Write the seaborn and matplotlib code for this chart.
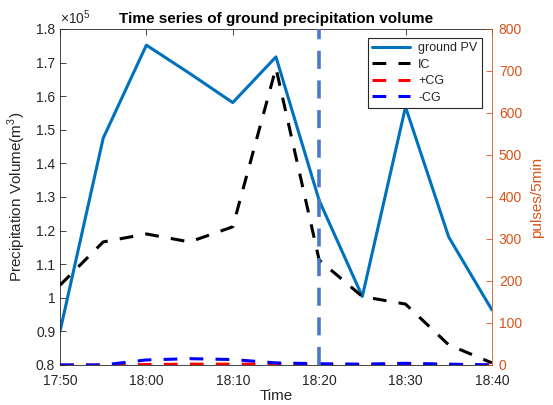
import matplotlib
matplotlib.use("Agg")
import matplotlib.dates as mdates
import matplotlib.pyplot as plt
import matplotlib.ticker as mticker
import pandas as pd
import seaborn as sns

times = ["17:50", "17:55", "18:00", "18:05", "18:10", "18:15",
         "18:20", "18:25", "18:30", "18:35", "18:40"]
ground_pv = [0.90e5, 1.475e5, 1.752e5, 1.668e5, 1.581e5, 1.717e5,
             1.290e5, 1.004e5, 1.568e5, 1.181e5, 0.964e5]
ic = [190, 293, 312, 293, 329, 707, 250, 163, 145, 48, 5]
pos_cg = [0, 0, 1, 2, 2, 2, 1, 0, 3, 0, 0]
neg_cg = [0, 0, 12, 15, 13, 5, 3, 2, 4, 2, 0]
marker_time = "18:20"

left_ticks = [0.8e5, 0.9e5, 1.0e5, 1.1e5, 1.2e5, 1.3e5, 1.4e5, 1.5e5, 1.6e5, 1.7e5, 1.8e5]
right_ticks = [0, 100, 200, 300, 400, 500, 600, 700, 800]


def main() -> None:
    t = pd.to_datetime(["2020-01-01 " + s for s in times])
    df = pd.DataFrame({"time": t, "pv": ground_pv, "ic": ic, "pcg": pos_cg, "ncg": neg_cg})

    sns.set_style("white")
    plt.rcParams["font.family"] = ["Liberation Sans", "DejaVu Sans"]
    plt.rcParams["axes.unicode_minus"] = False
    plt.rcParams["mathtext.fontset"] = "custom"
    plt.rcParams["mathtext.rm"] = "Liberation Sans"

    dark = "#262626"
    orange = "#D95319"

    fig = plt.figure(figsize=(5.53, 4.05), dpi=100)
    ax = fig.add_axes([0.1085, 0.0988, 0.781, 0.8296])
    ax2 = ax.twinx()

    sns.lineplot(data=df, x="time", y="pv", color="#0072BD", lw=2.2, ax=ax, label="ground PV")
    sns.lineplot(data=df, x="time", y="ic", color="black", lw=2.2, ax=ax2, label="IC")
    sns.lineplot(data=df, x="time", y="pcg", color="red", lw=2.2, ax=ax2, label="+CG")
    sns.lineplot(data=df, x="time", y="ncg", color="blue", lw=2.2, ax=ax2, label="-CG")
    for ln in ax2.lines:
        ln.set_dashes([4.5, 4])
    vt = pd.to_datetime("2020-01-01 " + marker_time)
    ax2.axvline(vt, color="#4A78CF", lw=2.6, dashes=(5, 3.2), zorder=5)

    ax.set_xlim(t[0], t[-1])
    ax.set_ylim(left_ticks[0], left_ticks[-1])
    ax2.set_ylim(right_ticks[0], right_ticks[-1])
    ax.xaxis.set_major_locator(mdates.MinuteLocator(byminute=[0, 10, 20, 30, 40, 50]))
    ax.xaxis.set_major_formatter(mdates.DateFormatter("%H:%M"))
    ax.set_yticks(left_ticks)
    ax.yaxis.set_major_formatter(mticker.FuncFormatter(lambda v, p: f"{v / 1e5:g}"))
    ax2.set_yticks(right_ticks)

    ax.tick_params(axis="both", direction="in", length=4, width=0.6, colors=dark,
                   labelsize=10, top=True, labelcolor=dark)
    ax.tick_params(axis="x", pad=6.5)
    ax2.tick_params(axis="y", direction="in", length=4, width=0.6, colors=orange,
                    labelsize=10, labelcolor=orange, pad=5)
    for s in ["left", "top", "bottom"]:
        ax.spines[s].set_color(dark)
        ax.spines[s].set_linewidth(0.6)
        ax2.spines[s].set_visible(False)
    ax.spines["right"].set_visible(False)
    ax2.spines["right"].set_color(orange)
    ax2.spines["right"].set_linewidth(0.6)

    ax.set_xlabel("Time", fontsize=11, color=dark, labelpad=0.5)
    ax.set_ylabel("Precipitation Volume(m$^3$)", fontsize=11, color=dark, labelpad=6)
    ax2.set_ylabel("pulses/5min", fontsize=11, color=orange, labelpad=6)
    ax.set_title("Time series of ground precipitation volume", fontsize=11,
                 fontweight="bold", color="black", pad=4)
    ax.text(0.0, 1.005, r"$\times10^5$", transform=ax.transAxes, ha="left", va="bottom",
            fontsize=10, color=dark)

    h1, l1 = ax.get_legend_handles_labels()
    h2, l2 = ax2.get_legend_handles_labels()
    if ax.get_legend():
        ax.get_legend().remove()
    leg = ax2.legend(h1 + h2, l1 + l2, loc="upper right", bbox_to_anchor=(0.977, 0.973),
                     borderaxespad=0, fontsize=9, frameon=True, fancybox=False,
                     framealpha=1, edgecolor=dark, handlelength=3.0, labelspacing=0.35,
                     borderpad=0.35, handletextpad=0.7)
    leg.get_frame().set_linewidth(0.8)

    fig.savefig("out.png", dpi=100)
    plt.close(fig)


if __name__ == "__main__":
    main()
